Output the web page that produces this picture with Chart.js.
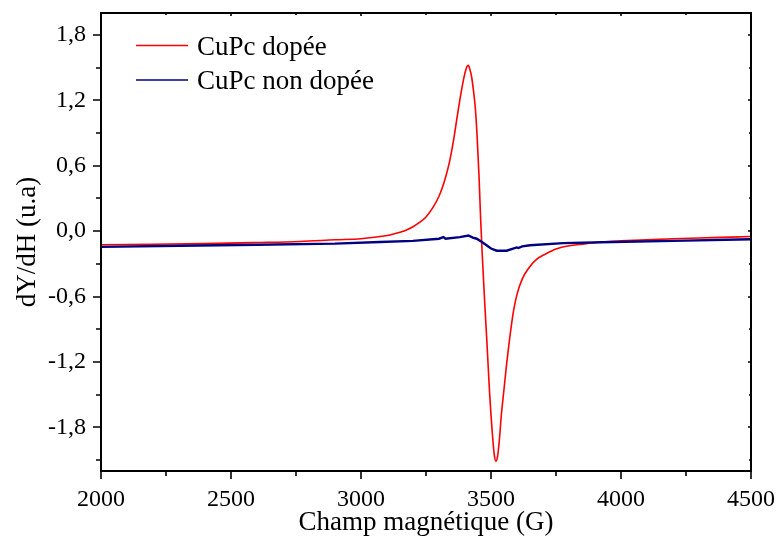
<!DOCTYPE html>
<html>
<head>
<meta charset="utf-8">
<script src="https://cdn.jsdelivr.net/npm/chart.js@4/dist/chart.umd.min.js"></script>
<style>
  html, body { margin: 0; padding: 0; background: #fff; }
  #wrap { width: 778px; height: 540px; }
</style>
</head>
<body>
<div id="wrap"><canvas id="epr" width="778" height="540"></canvas></div>
<script>
/* ── données ── */
const dopedField = [2000, 2200, 2400, 2600, 2765, 2900, 3000, 3073, 3111, 3150, 3175, 3200, 3225, 3250,
  3275, 3300, 3320, 3340, 3355, 3370, 3385, 3398, 3408, 3413, 3418, 3425, 3432, 3440, 3447, 3454,
  3460, 3466, 3475, 3485, 3495, 3505, 3513, 3519, 3525, 3532, 3540, 3550, 3560, 3572, 3586, 3600,
  3620, 3645, 3675, 3710, 3750, 3800, 3850, 3930, 4000, 4200, 4350, 4500];
const dopedSignal = [-0.125, -0.12, -0.115, -0.105, -0.095, -0.08, -0.07, -0.05, -0.035, -0.01, 0.01, 0.04, 0.08, 0.13,
  0.21, 0.32, 0.45, 0.63, 0.82, 1.05, 1.27, 1.43, 1.51, 1.52, 1.49, 1.42, 1.30, 1.12, 0.85, 0.50,
  0.12, -0.20, -0.62, -1.05, -1.50, -1.85, -2.06, -2.11, -2.07, -1.92, -1.68, -1.45, -1.22, -0.98, -0.74, -0.58,
  -0.44, -0.34, -0.26, -0.21, -0.165, -0.135, -0.12, -0.10, -0.09, -0.07, -0.06, -0.05];

const pureField = [2000, 2300, 2600, 2900, 3073, 3200, 3300, 3317, 3325, 3380, 3413, 3430, 3445, 3465,
  3483, 3500, 3522, 3560, 3585, 3599, 3605, 3620, 3650, 3778, 3969, 4200, 4500];
const pureSignal = [-0.145, -0.135, -0.125, -0.115, -0.10, -0.09, -0.07, -0.055, -0.07, -0.055, -0.04, -0.06, -0.07, -0.10,
  -0.13, -0.16, -0.18, -0.18, -0.16, -0.15, -0.155, -0.14, -0.13, -0.11, -0.10, -0.09, -0.075];

const seriesNames = ['CuPc dopée', 'CuPc non dopée'];
const seriesColors = ['#ff0000', '#000080'];

const xTicks = [2000, 2500, 3000, 3500, 4000, 4500];
const xMinorTicks = [2250, 2750, 3250, 3750, 4250];
const yTicks = [-1.8, -1.2, -0.6, 0.0, 0.6, 1.2, 1.8];
const yMinorTicks = [-2.1, -1.5, -0.9, -0.3, 0.3, 0.9, 1.5];

const FONT = "'Liberation Serif', 'Times New Roman', serif";

function toPoints(xs, ys) {
  return xs.map((x, i) => ({ x, y: ys[i] }));
}

/* ── cadre, graduations et légende ── */
const framePlugin = {
  id: 'frame',
  afterDraw(chart) {
    const { ctx, chartArea: a, scales: { x, y } } = chart;
    ctx.save();
    ctx.strokeStyle = '#000';
    ctx.lineWidth = 2;
    ctx.beginPath();
    ctx.rect(a.left, a.top, a.right - a.left, a.bottom - a.top);
    ctx.stroke();

    ctx.lineWidth = 1.6;
    ctx.beginPath();
    xTicks.forEach(v => {
      const p = Math.round(x.getPixelForValue(v));
      ctx.moveTo(p, a.bottom); ctx.lineTo(p, a.bottom + 8);
      ctx.moveTo(p, a.top);    ctx.lineTo(p, a.top + 3);
    });
    xMinorTicks.forEach(v => {
      const p = Math.round(x.getPixelForValue(v));
      ctx.moveTo(p, a.bottom); ctx.lineTo(p, a.bottom + 5);
      ctx.moveTo(p, a.top);    ctx.lineTo(p, a.top + 2);
    });
    yTicks.forEach(v => {
      const p = Math.round(y.getPixelForValue(v));
      ctx.moveTo(a.left, p);  ctx.lineTo(a.left - 8, p);
      ctx.moveTo(a.right, p); ctx.lineTo(a.right - 3, p);
    });
    yMinorTicks.forEach(v => {
      const p = Math.round(y.getPixelForValue(v));
      ctx.moveTo(a.left, p);  ctx.lineTo(a.left - 5, p);
      ctx.moveTo(a.right, p); ctx.lineTo(a.right - 2, p);
    });
    ctx.stroke();

    /* légende */
    ctx.font = '27px ' + FONT;
    ctx.fillStyle = '#000';
    ctx.textBaseline = 'alphabetic';
    ctx.textAlign = 'left';
    [[45.5, 54.5], [80, 88.5]].forEach(([ly, by], i) => {
      ctx.strokeStyle = seriesColors[i];
      ctx.lineWidth = 1.5;
      ctx.beginPath();
      ctx.moveTo(136, ly); ctx.lineTo(188, ly);
      ctx.stroke();
      ctx.fillText(seriesNames[i], 197, by);
    });
    ctx.restore();
  },
};

new Chart(document.getElementById('epr'), {
  type: 'scatter',
  data: {
    datasets: [
      {
        label: seriesNames[1],
        data: toPoints(pureField, pureSignal),
        showLine: true,
        borderColor: seriesColors[1],
        borderWidth: 2.4,
        pointRadius: 0,
        tension: 0,
      },
      {
        label: seriesNames[0],
        data: toPoints(dopedField, dopedSignal),
        showLine: true,
        borderColor: seriesColors[0],
        borderWidth: 1.6,
        pointRadius: 0,
        cubicInterpolationMode: 'monotone',
      },
    ],
  },
  options: {
    responsive: false,
    animation: false,
    layout: { padding: { left: 0, right: 27, top: 13, bottom: 0 } },
    plugins: { legend: { display: false }, tooltip: { enabled: false } },
    scales: {
      x: {
        type: 'linear',
        min: 2000,
        max: 4500,
        afterBuildTicks: s => { s.ticks = xTicks.map(v => ({ value: v })); },
        afterFit: s => { s.height = 69; s.paddingLeft = 0; s.paddingRight = 0; },
        grid: { display: false, drawTicks: false },
        border: { display: false },
        ticks: {
          padding: 14,
          color: '#000',
          font: { family: FONT, size: 24 },
          maxRotation: 0,
          callback: v => String(v),
        },
        title: {
          display: true,
          text: 'Champ magnétique (G)',
          color: '#000',
          font: { family: FONT, size: 27 },
          padding: { top: 0, bottom: 1 },
        },
      },
      y: {
        type: 'linear',
        min: -2.2,
        max: 2.0,
        afterBuildTicks: s => { s.ticks = yTicks.map(v => ({ value: v })); },
        afterFit: s => { s.width = 101; s.paddingTop = 0; s.paddingBottom = 0; },
        grid: { display: false, drawTicks: false },
        border: { display: false },
        ticks: {
          padding: 15,
          color: '#000',
          font: { family: FONT, size: 24 },
          callback: v => v.toFixed(1).replace('.', ','),
        },
        title: {
          display: true,
          text: 'dY/dH (u.a)',
          color: '#000',
          font: { family: FONT, size: 27 },
          padding: { top: 12, bottom: 0 },
        },
      },
    },
  },
  plugins: [framePlugin],
});
</script>
</body>
</html>
